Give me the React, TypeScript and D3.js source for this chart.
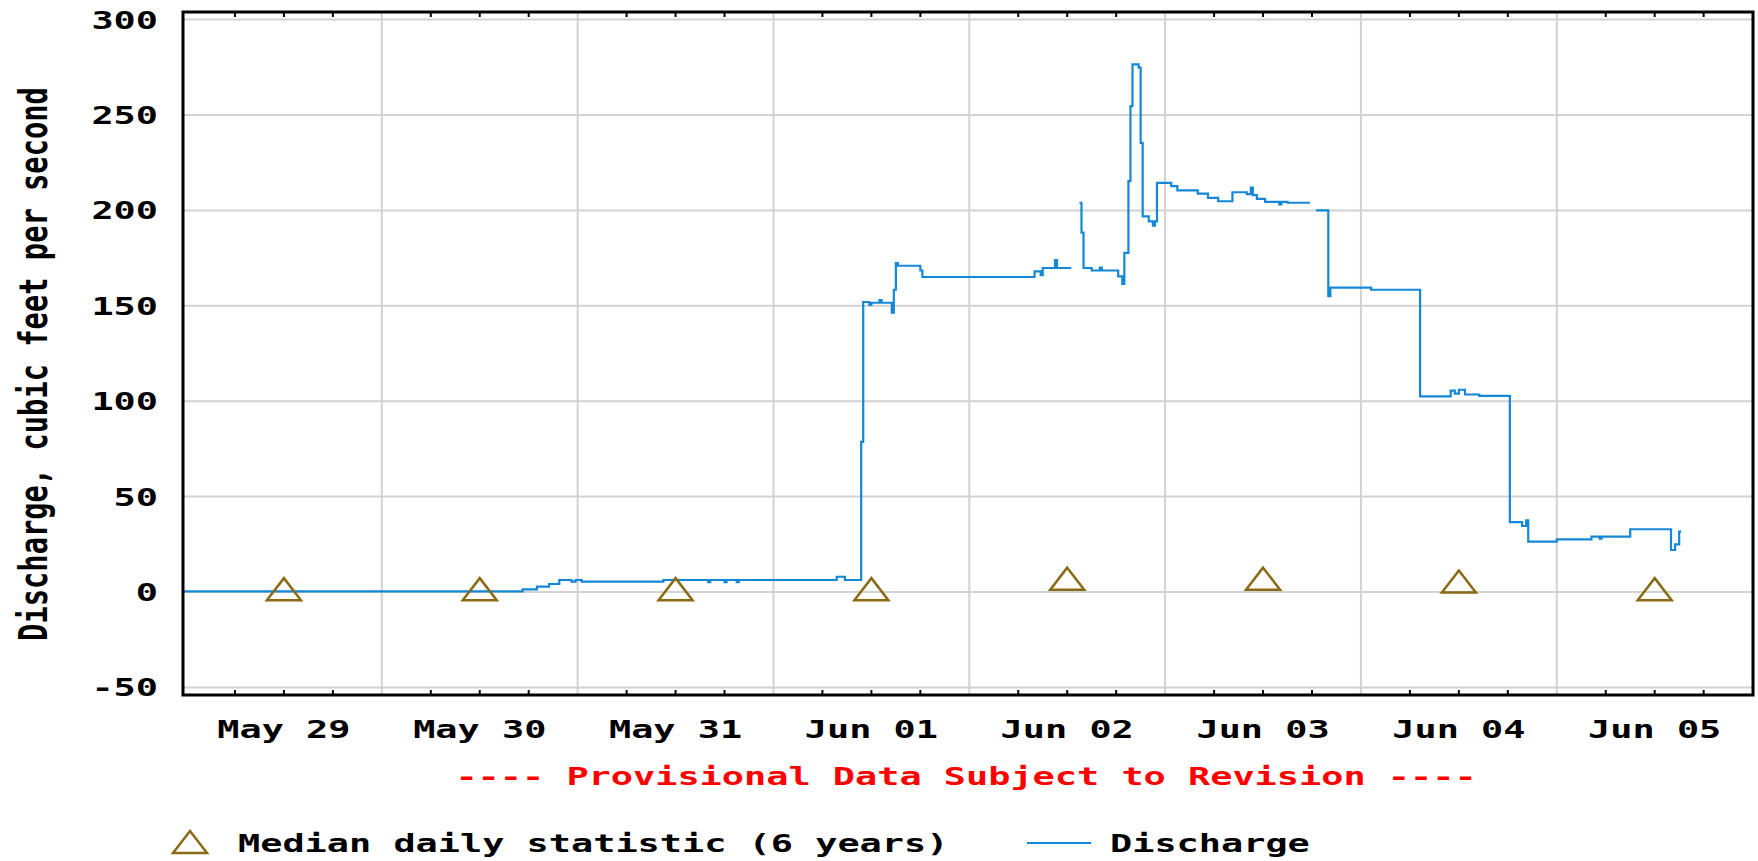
import React from 'react';
import * as d3 from 'd3';

const YEAR = '2013';
const DAYS = ['05-29', '05-30', '05-31', '06-01', '06-02', '06-03', '06-04', '06-05'];
const DAY_LABELS = ['May 29', 'May 30', 'May 31', 'Jun 01', 'Jun 02', 'Jun 03', 'Jun 04', 'Jun 05'];
const MEDIAN_VALUES = [1.5, 1.5, 1.5, 1.5, 7, 7, 5.5, 1.5];
const Y_TICKS = [-50, 0, 50, 100, 150, 200, 250, 300];

// 15-minute gauge readings, null = missing record
const DISCHARGE_TIMES = [
  '05-28 23:45', '05-30 17:15', '05-30 19:00', '05-30 20:30', '05-30 21:45', '05-30 23:15', '05-30 23:45',
  '05-31 00:30', '05-31 10:30', '05-31 16:00', '05-31 16:15', '05-31 18:00', '05-31 18:15', '05-31 19:30',
  '05-31 19:45', '06-01 07:45', '06-01 08:45', '06-01 10:45', '06-01 11:00', '06-01 11:45', '06-01 12:00',
  '06-01 13:00', '06-01 13:15', '06-01 14:30', '06-01 14:45', '06-01 15:00', '06-01 15:15', '06-01 18:00',
  '06-01 18:15', '06-02 08:00', '06-02 08:45', '06-02 09:00', '06-02 10:30', '06-02 10:45', '06-02 12:30',
  '06-02 12:45', '06-02 13:30', '06-02 13:45', '06-02 14:00', '06-02 15:00', '06-02 16:00', '06-02 16:15',
  '06-02 18:15', '06-02 18:45', '06-02 19:00', '06-02 19:30', '06-02 19:45', '06-02 20:00', '06-02 20:45',
  '06-02 21:00', '06-02 21:15', '06-02 22:00', '06-02 22:30', '06-02 22:45', '06-02 23:00', '06-03 00:45',
  '06-03 01:30', '06-03 04:00', '06-03 05:15', '06-03 06:30', '06-03 08:15', '06-03 10:00', '06-03 10:30',
  '06-03 10:45', '06-03 11:15', '06-03 12:15', '06-03 14:00', '06-03 14:15', '06-03 15:00', '06-03 17:45',
  '06-03 18:00', '06-03 18:30', '06-03 20:00', '06-03 20:15', '06-04 01:15', '06-04 07:15', '06-04 11:00',
  '06-04 11:30', '06-04 12:00', '06-04 12:45', '06-04 14:30', '06-04 18:15', '06-04 19:45', '06-04 20:15',
  '06-04 20:30', '06-05 00:00', '06-05 04:15', '06-05 05:15', '06-05 05:30', '06-05 09:00', '06-05 14:00',
  '06-05 14:30', '06-05 15:00', '06-05 15:15',
];
const DISCHARGE_VALUES: (number | null)[] = [
  0.3, 1.4, 2.8, 4.2, 6.3, 5.4, 6.3,
  5.4, 6.3, 5.2, 6.3, 5.2, 6.3, 5.2,
  6.3, 8, 6.3, 78.7, 152, 150.5, 151.6,
  153, 151.6, 146.4, 158.4, 172.4, 171, 168.5,
  165.1, 168, 166, 169.8, 174, 169.8, 169.8,
  null, 204, 188.3, 169.8, 168.5, 170, 168.5,
  165.4, 161.5, 177.7, 215.3, 254.6, 276.5, 274.8,
  235.4, 196.9, 194.3, 192, 194.3, 214.4, 212.7,
  210.5, 208.8, 206.6, 204.8, 209.5, 208.5, 212,
  208, 206, 204.5, 203.2, 204.5, 204, 204,
  null, 200, 155, 159.5, 158.4, 102.5, 105.5,
  104, 106, 103.5, 102.8, 36.6, 34.6, 37.5,
  26.4, 27.6, 29, 28, 29, 32.9, 22,
  25, 31.6, 31.6,
];

const W = 1758;
const H = 861;
const FRAME = { left: 183, right: 1753, top: 12, bottom: 695 };
const FONT = "'DejaVu Sans Mono', monospace";
const FS = 25;
const SX = 1.475;
const LINE_COLOR = '#1488d6';
const MEDIAN_COLOR = '#8a6a12';
const GRID = '#d2d2d2';

const parse = d3.timeParse('%Y-%m-%d %H:%M');
const tri = 'M0,-11 L17,11 L-17,11 Z';

type TxtProps = { x: number; y: number; anchor?: string; fill?: string; children: React.ReactNode };

const Txt = ({ x, y, anchor = 'start', fill = '#000', children }: TxtProps) => (
  <text
    transform={`translate(${x},${y}) scale(${SX},1)`}
    textAnchor={anchor}
    fontFamily={FONT}
    fontWeight="bold"
    fontSize={FS}
    fill={fill}
  >
    {children}
  </text>
);

export default function App() {
  const xScale = d3
    .scaleTime()
    .domain([parse(`${YEAR}-05-29 00:00`) as Date, parse(`${YEAR}-06-06 00:00`) as Date])
    .range([186, 1752.6]);
  const yScale = d3.scaleLinear().domain([-50, 300]).range([687.4, 19.6]);

  const series = DISCHARGE_TIMES.map((t, i) => ({ date: parse(`${YEAR}-${t}`) as Date, value: DISCHARGE_VALUES[i] }));
  const linePath = d3
    .line<{ date: Date; value: number | null }>()
    .defined((d) => d.value !== null)
    .x((d) => xScale(d.date))
    .y((d) => yScale(d.value as number))
    .curve(d3.curveStepAfter)(series);

  const days = xScale.ticks(d3.timeDay.every(1) as d3.CountableTimeInterval);
  const midnights = days.filter((d) => xScale(d) > FRAME.left + 5 && xScale(d) < FRAME.right - 5);
  const quarters = xScale
    .ticks(d3.timeHour.every(6) as d3.CountableTimeInterval)
    .filter((d) => d.getHours() !== 0);

  const noon = (d: string) => xScale(parse(`${YEAR}-${d} 12:00`) as Date);

  return (
    <svg width={W} height={H} style={{ position: 'absolute', left: 0, top: 0, background: '#fff' }}>
      <rect x={0} y={0} width={W} height={H} fill="#fff" />
      {/* grid */}
      {Y_TICKS.map((v) => (
        <line key={`gy${v}`} x1={FRAME.left} x2={FRAME.right} y1={yScale(v)} y2={yScale(v)} stroke={GRID} strokeWidth={2} />
      ))}
      {midnights.map((d, i) => (
        <line key={`gx${i}`} x1={xScale(d)} x2={xScale(d)} y1={FRAME.top} y2={FRAME.bottom} stroke={GRID} strokeWidth={2} />
      ))}

      {/* discharge */}
      <path d={linePath || ''} fill="none" stroke={LINE_COLOR} strokeWidth={2.2} />

      {/* median markers */}
      {DAYS.map((d, i) => (
        <path
          key={`m${d}`}
          d={tri}
          transform={`translate(${noon(d)},${yScale(MEDIAN_VALUES[i])})`}
          fill="none"
          stroke={MEDIAN_COLOR}
          strokeWidth={2.5}
        />
      ))}

      {/* frame + ticks */}
      <rect
        x={FRAME.left}
        y={FRAME.top}
        width={FRAME.right - FRAME.left}
        height={FRAME.bottom - FRAME.top}
        fill="none"
        stroke="#000"
        strokeWidth={3}
      />
      {quarters.map((d, i) => (
        <g key={`t${i}`}>
          <line x1={xScale(d)} x2={xScale(d)} y1={FRAME.bottom} y2={FRAME.bottom - 5} stroke="#000" strokeWidth={2} />
          <line x1={xScale(d)} x2={xScale(d)} y1={FRAME.top} y2={FRAME.top + 5} stroke="#000" strokeWidth={2} />
        </g>
      ))}

      {/* y tick labels */}
      {Y_TICKS.map((v) => (
        <Txt key={`yl${v}`} x={158} y={yScale(v) + 9} anchor="end">
          {v}
        </Txt>
      ))}

      {/* x tick labels */}
      {DAYS.map((d, i) => (
        <Txt key={`xl${d}`} x={noon(d)} y={738} anchor="middle">
          {DAY_LABELS[i]}
        </Txt>
      ))}

      {/* y title */}
      <text
        transform={`translate(47,364) rotate(-90) scale(1.15,1.54)`}
        textAnchor="middle"
        fontFamily={FONT}
        fontWeight="bold"
        fontSize={FS}
        fill="#000"
      >
        Discharge, cubic feet per second
      </text>

      <Txt x={966} y={785} anchor="middle" fill="#ff0000">
        ---- Provisional Data Subject to Revision ----
      </Txt>

      {/* legend */}
      <path d={tri} transform="translate(190,842)" fill="none" stroke={MEDIAN_COLOR} strokeWidth={2.5} />
      <Txt x={238} y={852}>
        Median daily statistic (6 years)
      </Txt>
      <line x1={1027} x2={1091} y1={843} y2={843} stroke={LINE_COLOR} strokeWidth={2.2} />
      <Txt x={1110} y={852}>
        Discharge
      </Txt>
    </svg>
  );
}
